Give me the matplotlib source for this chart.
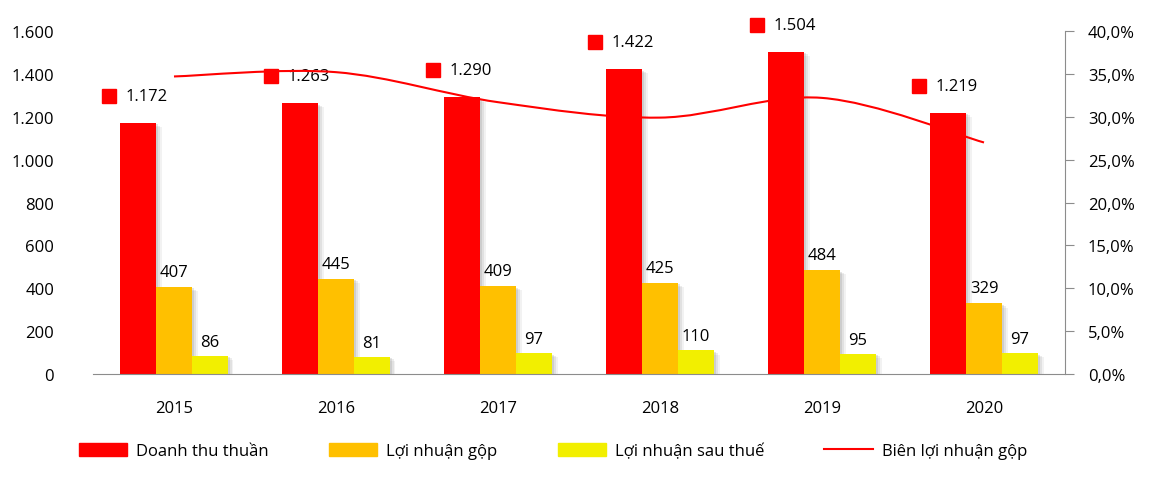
import matplotlib
matplotlib.use("Agg")
import matplotlib.pyplot as plt
import matplotlib.patheffects as pe
import numpy as np
from matplotlib.lines import Line2D
from matplotlib.patches import Patch, PathPatch
from matplotlib.path import Path
from matplotlib.ticker import FuncFormatter
from matplotlib.transforms import offset_copy

YEARS = ["2015", "2016", "2017", "2018", "2019", "2020"]
REVENUE = [1172, 1263, 1290, 1422, 1504, 1219]
GROSS_PROFIT = [407, 445, 409, 425, 484, 329]
NET_PROFIT = [86, 81, 97, 110, 95, 97]
GROSS_MARGIN = [34.7, 35.2, 31.7, 29.9, 32.2, 27.0]

LABELS = ["Doanh thu thuần", "Lợi nhuận gộp", "Lợi nhuận sau thuế", "Biên lợi nhuận gộp"]
RED = "#ff0000"
ORANGE = "#ffc000"
YELLOW = "#f2ef00"
GREY = "#8c8c8c"

plt.rcParams["font.family"] = ["Open Sans", "DejaVu Sans"]
plt.rcParams["font.size"] = 12


def vn(v):
    return f"{v:,}".replace(",", ".")


def smooth_path(xs, ys):
    # Catmull-Rom style smoothing as cubic Bezier segments
    pts = np.column_stack([xs, ys]).astype(float)
    ext = np.vstack([pts[0], pts, pts[-1]])
    verts = [pts[0]]
    codes = [Path.MOVETO]
    for i in range(len(pts) - 1):
        p0, p1, p2, p3 = ext[i], ext[i + 1], ext[i + 2], ext[i + 3]
        verts += [p1 + (p2 - p0) / 6, p2 - (p3 - p1) / 6, p2]
        codes += [Path.CURVE4] * 3
    return Path(verts, codes)


fig = plt.figure(figsize=(11.58, 4.85), dpi=100)
ax = fig.add_axes([0.0803, 0.2268, 0.8394, 0.7072])
ax2 = ax.twinx()

x = np.arange(len(YEARS))
w = 0.222
# soft drop shadow, built from a few faint offset copies
shadow = [
    pe.SimplePatchShadow(offset=(4, -3), shadow_rgbFace=(0.5, 0.5, 0.5), alpha=0.10),
    pe.SimplePatchShadow(offset=(3, -2), shadow_rgbFace=(0.5, 0.5, 0.5), alpha=0.15),
    pe.SimplePatchShadow(offset=(1.5, -1), shadow_rgbFace=(0.5, 0.5, 0.5), alpha=0.2),
    pe.Normal(),
]

series = [(REVENUE, RED, -w), (GROSS_PROFIT, ORANGE, 0), (NET_PROFIT, YELLOW, w)]
for vals, col, off in series:
    bars = ax.bar(x + off, vals, width=w, color=col, zorder=2)
    for b in bars:
        b.set_path_effects(shadow)

# revenue labels with red square key
txt_tr = offset_copy(ax.transData, fig=fig, x=9, y=27, units="dots")
sq_tr = offset_copy(ax.transData, fig=fig, x=-29, y=27, units="dots")
for xi, v in zip(x - w, REVENUE):
    ax.text(xi, v, vn(v), transform=txt_tr, ha="center", va="center", fontsize=12, clip_on=False)
    ax.plot([xi], [v], marker="s", markersize=9.5, color=RED, transform=sq_tr, clip_on=False, zorder=5)

for xi, v in zip(x, GROSS_PROFIT):
    ax.annotate(vn(v), (xi, v), xytext=(0, 15), textcoords="offset pixels", ha="center", va="center", fontsize=12)
for xi, v in zip(x + w, NET_PROFIT):
    ax.annotate(vn(v), (xi, v), xytext=(0, 14), textcoords="offset pixels", ha="center", va="center", fontsize=12)

ax.set_xlim(-0.5, len(YEARS) - 0.5)
ax.set_ylim(0, 1600)
ax.set_yticks(np.arange(0, 1601, 200))
ax.yaxis.set_major_formatter(FuncFormatter(lambda v, p: vn(int(v))))
ax.set_xticks(x)
ax.set_xticklabels(YEARS)
ax.tick_params(axis="x", length=0, pad=19)
ax.tick_params(axis="y", length=0, pad=28)
for s in ["left", "top", "right"]:
    ax.spines[s].set_visible(False)
ax.spines["bottom"].set_color(GREY)

# gross margin line on right axis
ax2.set_ylim(0, 40)
ax2.set_yticks(np.arange(0, 41, 5))
ax2.yaxis.set_major_formatter(FuncFormatter(lambda v, p: f"{v:.1f}%".replace(".", ",")))
ax2.tick_params(axis="y", length=6.5, pad=10, color=GREY)
for s in ["left", "top", "bottom"]:
    ax2.spines[s].set_visible(False)
ax2.spines["right"].set_color(GREY)
ax2.add_patch(PathPatch(smooth_path(x, GROSS_MARGIN), facecolor="none", edgecolor=RED, lw=1.5, zorder=3))

handles = [
    Patch(color=RED),
    Patch(color=ORANGE),
    Patch(color=YELLOW),
    Line2D([], [], color=RED, lw=1.5),
]
fig.legend(handles, LABELS, loc="center", bbox_to_anchor=(0.4775, 0.068), ncol=4, frameon=False,
           handlelength=2.9, handleheight=0.85, handletextpad=0.55, columnspacing=3.6, fontsize=12)

fig.savefig("out.png", dpi=100)
